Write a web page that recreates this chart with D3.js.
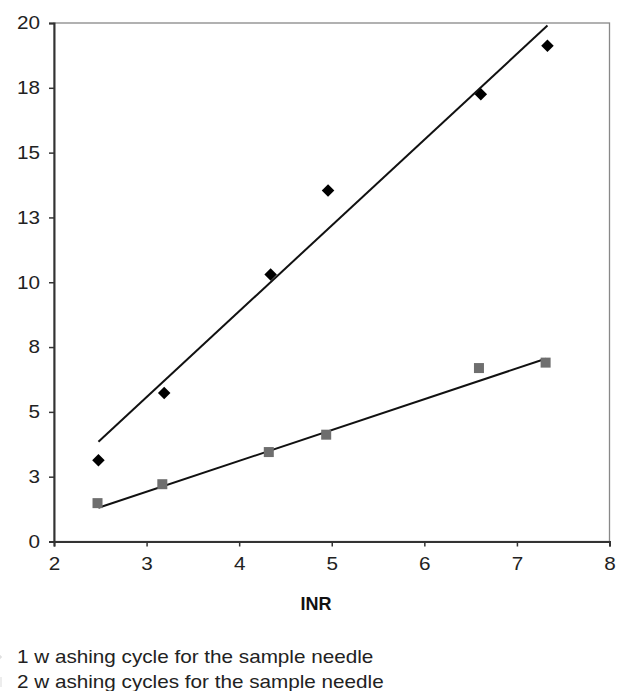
<!DOCTYPE html>
<html><head><meta charset="utf-8">
<script src="https://cdn.jsdelivr.net/npm/d3@7"></script>
<style>body{margin:0;background:#fff;}svg{display:block;font-family:"Liberation Sans",Arial,sans-serif;}</style>
</head><body><svg id="c" width="625" height="691"></svg>
<script>
const series1Name = "1 w ashing cycle for the sample needle";
const series2Name = "2 w ashing cycles for the sample needle";
const inr1 = [2.48, 3.19, 4.34, 4.96, 6.61, 7.33];
const val1 = [3.13, 5.73, 10.3, 13.54, 17.25, 19.12];
const inr2 = [2.47, 3.17, 4.32, 4.94, 6.59, 7.31];
const val2 = [1.48, 2.21, 3.45, 4.12, 6.69, 6.9];
const trend1X = [2.48, 7.33], trend1Y = [3.85, 19.9];
const trend2X = [2.48, 7.31], trend2Y = [1.3, 7.05];
const xTicks = [2, 3, 4, 5, 6, 7, 8];
const yTicks = [0, 2.5, 5, 7.5, 10, 12.5, 15, 17.5, 20];
const yTickLabels = ["0", "3", "5", "8", "10", "13", "15", "18", "20"];

const svg = d3.select("#c");
const L = 54, R = 609.5, T = 23, B = 541.5;
const x = d3.scaleLinear().domain([2, 8]).range([L, R]);
const y = d3.scaleLinear().domain([0, 20]).range([B, T]);
const SX = 1.15;

svg.append("rect").attr("x", L).attr("y", T).attr("width", R - L).attr("height", B - T)
  .attr("fill", "none").attr("stroke", "#888").attr("stroke-width", 1.3);

const yAxis = svg.append("g").attr("transform", `translate(${L},0)`)
  .call(d3.axisLeft(y).tickValues(yTicks).tickFormat((d, i) => yTickLabels[i]).tickSize(5).tickPadding(9));
const xAxis = svg.append("g").attr("transform", `translate(0,${B})`)
  .call(d3.axisBottom(x).tickValues(xTicks).tickFormat(d3.format("d")).tickSize(5).tickPadding(11));
[yAxis, xAxis].forEach(a => {
  a.select(".domain").attr("stroke", "#333").attr("stroke-width", 2);
  a.selectAll(".tick line").attr("stroke", "#333").attr("stroke-width", 1.5);
  a.selectAll(".tick text").attr("font-size", 18).attr("fill", "#222")
    .attr("font-family", "'Liberation Sans',Arial,sans-serif");
});
yAxis.selectAll(".tick text").attr("x", -14 / SX).attr("transform", `scale(${SX},1)`);
xAxis.selectAll(".tick text").attr("transform", `scale(${SX},1)`);

const line = d3.line().x(d => x(d[0])).y(d => y(d[1]));
svg.append("path").datum(d3.zip(trend1X, trend1Y)).attr("d", line)
  .attr("stroke", "#111").attr("stroke-width", 2).attr("fill", "none");
svg.append("path").datum(d3.zip(trend2X, trend2Y)).attr("d", line)
  .attr("stroke", "#111").attr("stroke-width", 2).attr("fill", "none");

svg.append("g").selectAll("rect").data(d3.zip(inr2, val2)).join("rect")
  .attr("x", d => x(d[0]) - 5).attr("y", d => y(d[1]) - 5)
  .attr("width", 10).attr("height", 10).attr("fill", "#6e6e6e");
const diamond = d3.symbol().type(d3.symbolDiamond2).size(100);
svg.append("g").selectAll("path").data(d3.zip(inr1, val1)).join("path")
  .attr("transform", d => `translate(${x(d[0])},${y(d[1])})`)
  .attr("d", diamond).attr("fill", "#000");

svg.append("text").attr("x", 316).attr("y", 610).attr("text-anchor", "middle")
  .attr("font-size", 18).attr("font-weight", "bold").attr("fill", "#111").text("INR");

const leg = svg.append("g");
leg.append("path").attr("transform", "translate(-4,657)").attr("d", diamond).attr("fill", "#000").attr("opacity", 0.12);
leg.append("rect").attr("x", -8).attr("y", 677).attr("width", 10).attr("height", 10).attr("fill", "#6e6e6e").attr("opacity", 0.12);
leg.append("text").attr("x", 17 / SX).attr("y", 663.5).attr("font-size", 18).attr("fill", "#222")
  .attr("transform", `scale(${SX},1)`).text(series1Name);
leg.append("text").attr("x", 17 / SX).attr("y", 688.5).attr("font-size", 18).attr("fill", "#222")
  .attr("transform", `scale(${SX},1)`).text(series2Name);
</script>
</body></html>
